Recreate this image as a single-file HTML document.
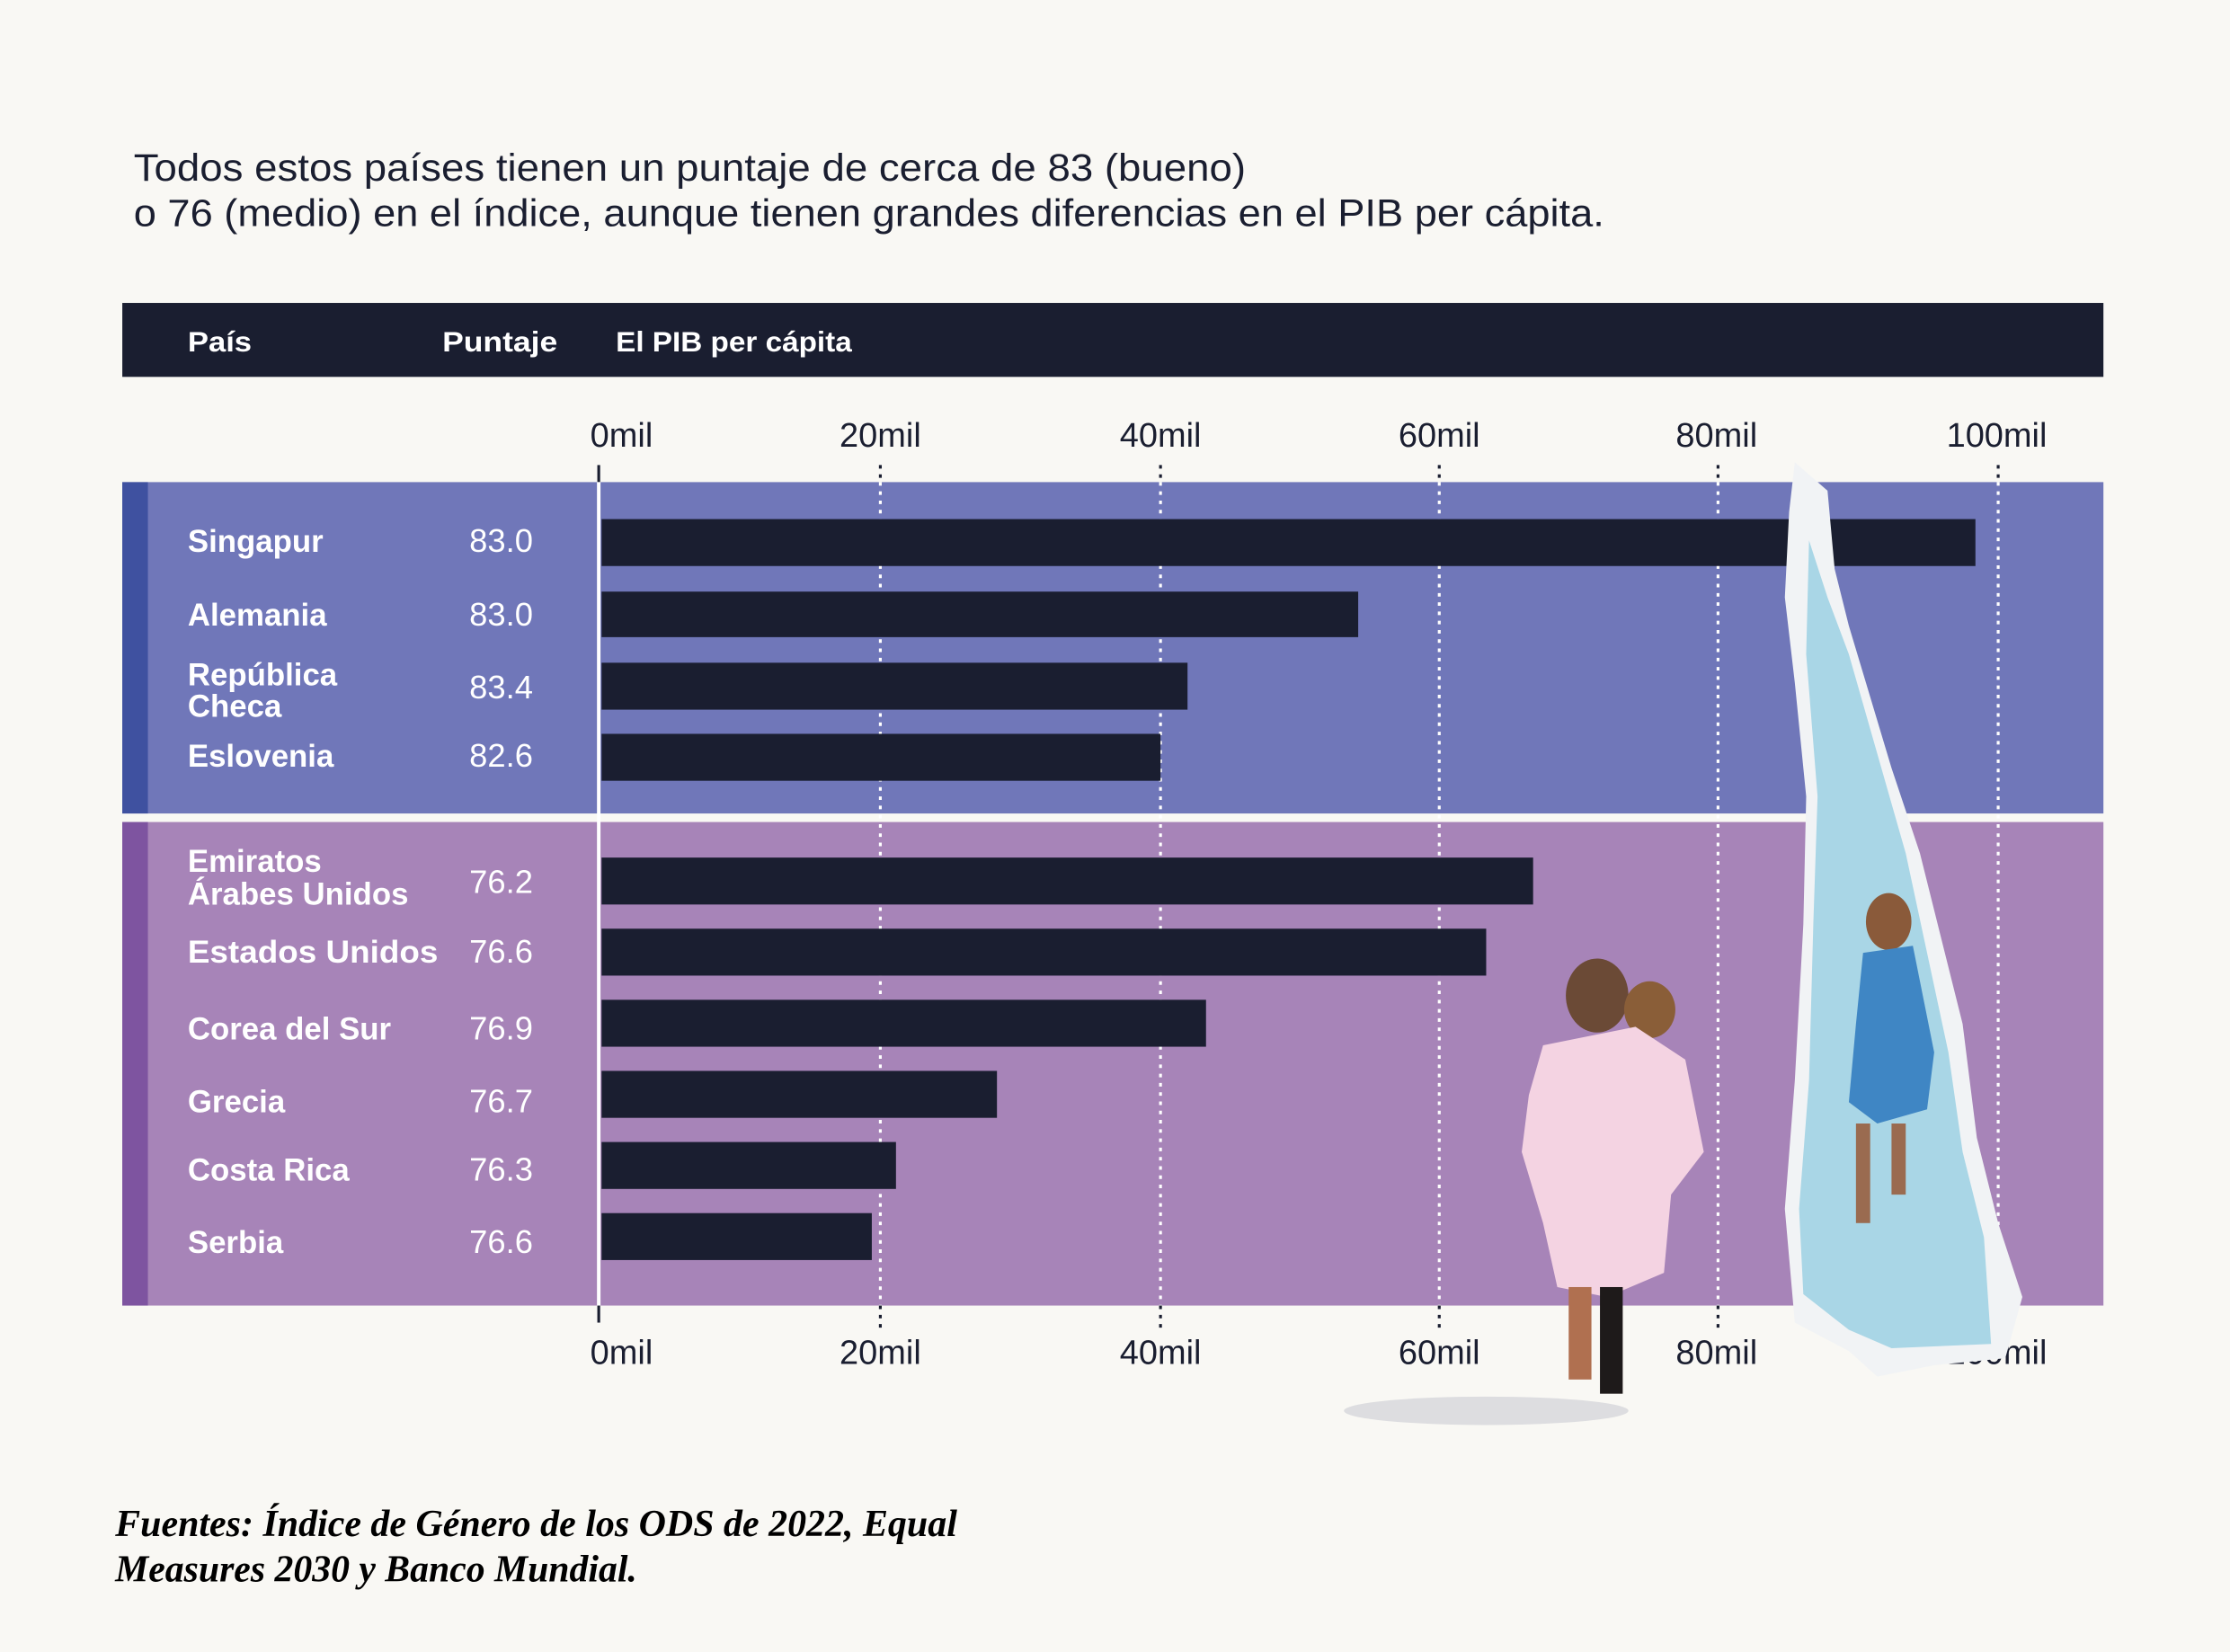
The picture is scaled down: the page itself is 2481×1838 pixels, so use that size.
<!DOCTYPE html>
<html><head><meta charset="utf-8"><style>
html,body{margin:0;padding:0;background:#f9f8f4;}
svg{display:block;}
</style></head><body>
<svg width="2481" height="1838" viewBox="0 0 1568 1161.6" preserveAspectRatio="none" xmlns="http://www.w3.org/2000/svg">
<rect x="0" y="0" width="1568" height="1162" fill="#f9f8f4"/>
<g font-family="Liberation Sans, sans-serif" fill="#1a1e30">
<text x="94" y="127" font-size="27" textLength="782" lengthAdjust="spacingAndGlyphs">Todos estos países tienen un puntaje de cerca de 83 (bueno)</text>
<text x="94" y="159" font-size="27" textLength="1034" lengthAdjust="spacingAndGlyphs">o 76 (medio) en el índice, aunque tienen grandes diferencias en el PIB per cápita.</text>
</g>
<rect x="86" y="213" width="1393" height="52" fill="#1a1e30"/>
<g font-family="Liberation Sans, sans-serif" font-weight="bold" font-size="20" fill="#fff">
<text x="132" y="247" textLength="45" lengthAdjust="spacingAndGlyphs">País</text>
<text x="311" y="247" textLength="81" lengthAdjust="spacingAndGlyphs">Puntaje</text>
<text x="433" y="247" textLength="166" lengthAdjust="spacingAndGlyphs">El PIB per cápita</text>
</g>
<rect x="86" y="339" width="1393" height="233" fill="#7077b9"/>
<rect x="86" y="339" width="18" height="233" fill="#3f51a0"/>
<rect x="86" y="578" width="1393" height="340" fill="#a784b8"/>
<rect x="86" y="578" width="18" height="340" fill="#7e54a0"/>
<g stroke-width="2" stroke-dasharray="2.5,4">
<g stroke="#1a1e30">
<line x1="619" y1="327" x2="619" y2="339"/><line x1="816" y1="327" x2="816" y2="339"/><line x1="1012" y1="327" x2="1012" y2="339"/><line x1="1208" y1="327" x2="1208" y2="339"/><line x1="1405" y1="327" x2="1405" y2="339"/>
<line x1="619" y1="918" x2="619" y2="935"/><line x1="816" y1="918" x2="816" y2="935"/><line x1="1012" y1="918" x2="1012" y2="935"/><line x1="1208" y1="918" x2="1208" y2="935"/><line x1="1405" y1="918" x2="1405" y2="935"/>
</g>
<g stroke="#fff">
<line x1="619" y1="339" x2="619" y2="918"/><line x1="816" y1="339" x2="816" y2="918"/><line x1="1012" y1="339" x2="1012" y2="918"/><line x1="1208" y1="339" x2="1208" y2="918"/><line x1="1405" y1="339" x2="1405" y2="918"/>
</g>
</g>
<line x1="421" y1="327" x2="421" y2="339" stroke="#1a1e30" stroke-width="2"/>
<line x1="421" y1="918" x2="421" y2="930" stroke="#1a1e30" stroke-width="2"/>
<line x1="421" y1="339" x2="421" y2="918" stroke="#fff" stroke-width="2.5"/>
<g fill="#1a1e30">
<rect x="423" y="365" width="966" height="33"/>
<rect x="423" y="416" width="532" height="32"/>
<rect x="423" y="466" width="412" height="33"/>
<rect x="423" y="516" width="393" height="33"/>
<rect x="423" y="603" width="655" height="33"/>
<rect x="423" y="653" width="622" height="33"/>
<rect x="423" y="703" width="425" height="33"/>
<rect x="423" y="753" width="278" height="33"/>
<rect x="423" y="803" width="207" height="33"/>
<rect x="423" y="853" width="190" height="33"/>
</g>
<g font-family="Liberation Sans, sans-serif" font-weight="bold" font-size="22" fill="#fff">
<text x="132" y="388">Singapur</text>
<text x="132" y="440">Alemania</text>
<text x="132" y="482">República</text>
<text x="132" y="504">Checa</text>
<text x="132" y="539">Eslovenia</text>
<text x="132" y="613">Emiratos</text>
<text x="132" y="636">Árabes Unidos</text>
<text x="132" y="677" textLength="176" lengthAdjust="spacingAndGlyphs">Estados Unidos</text>
<text x="132" y="731">Corea del Sur</text>
<text x="132" y="782">Grecia</text>
<text x="132" y="830">Costa Rica</text>
<text x="132" y="881">Serbia</text>
</g>
<g font-family="Liberation Sans, sans-serif" font-size="23" fill="#fff">
<text x="330" y="388">83.0</text>
<text x="330" y="440">83.0</text>
<text x="330" y="491">83.4</text>
<text x="330" y="539">82.6</text>
<text x="330" y="628">76.2</text>
<text x="330" y="677">76.6</text>
<text x="330" y="731">76.9</text>
<text x="330" y="782">76.7</text>
<text x="330" y="830">76.3</text>
<text x="330" y="881">76.6</text>
</g>
<g font-family="Liberation Sans, sans-serif" font-size="24" fill="#1a1e30" text-anchor="middle">
<text x="437" y="314">0mil</text><text x="619" y="314">20mil</text><text x="816" y="314">40mil</text><text x="1012" y="314">60mil</text><text x="1207" y="314">80mil</text><text x="1404" y="314">100mil</text>
<text x="437" y="959">0mil</text><text x="619" y="959">20mil</text><text x="816" y="959">40mil</text><text x="1012" y="959">60mil</text><text x="1207" y="959">80mil</text><text x="1404" y="959">100mil</text>
</g>
<polygon points="1262,325 1285,345 1290,400 1300,440 1330,540 1350,600 1365,660 1380,720 1390,800 1405,860 1422,912 1410,955 1360,960 1320,968 1300,950 1262,930 1255,850 1262,760 1268,650 1270,560 1262,480 1255,420 1258,360" fill="#f1f3f5"/>
<polygon points="1272,380 1285,420 1300,460 1320,530 1340,600 1355,670 1370,740 1380,810 1395,870 1400,945 1330,948 1300,935 1268,910 1265,850 1272,760 1275,650 1278,560 1270,460" fill="#a9d6e6"/>
<ellipse cx="1328" cy="648" rx="16" ry="20" fill="#8a5a3a"/>
<polygon points="1310,670 1345,665 1360,740 1355,780 1320,790 1300,775 1305,720" fill="#3f86c4"/>
<rect x="1305" y="790" width="10" height="70" fill="#9a6b50"/>
<rect x="1330" y="790" width="10" height="50" fill="#9a6b50"/>
<ellipse cx="1123" cy="700" rx="22" ry="26" fill="#6b4a36"/>
<ellipse cx="1160" cy="710" rx="18" ry="20" fill="#8a5e38"/>
<polygon points="1085,735 1150,722 1185,745 1198,810 1175,840 1170,895 1130,912 1095,905 1085,860 1070,810 1075,770" fill="#f4d3e2"/>
<rect x="1125" y="905" width="16" height="75" fill="#1e1a1a"/>
<rect x="1103" y="905" width="16" height="65" fill="#b07050"/>
<ellipse cx="1045" cy="992" rx="100" ry="10" fill="#c9cbd2" opacity="0.6"/>
<g font-family="Liberation Serif, serif" font-style="italic" font-weight="bold" font-size="27" fill="#000">
<text x="81" y="1080" textLength="592" lengthAdjust="spacingAndGlyphs">Fuentes: Índice de Género de los ODS de 2022, Equal</text>
<text x="81" y="1112" textLength="367" lengthAdjust="spacingAndGlyphs">Measures 2030 y Banco Mundial.</text>
</g>
</svg>
</body></html>
